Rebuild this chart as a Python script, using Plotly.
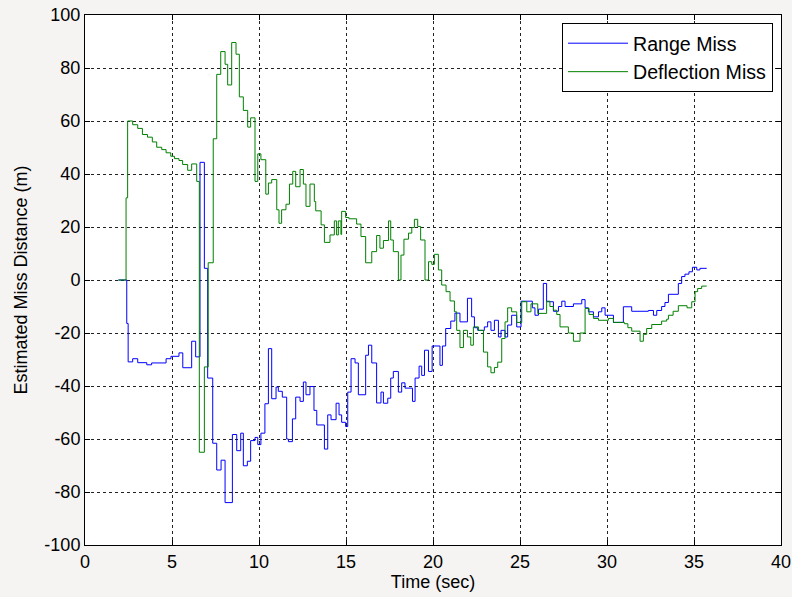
import plotly.graph_objects as go

# ---- data (step series: value holds until next time) ----
range_time = [1.92, 2.40, 2.48, 2.74, 3.03, 3.55, 3.83, 4.66, 4.94, 5.40, 5.62, 6.13, 6.36,
              6.61, 6.86, 7.05, 7.34, 7.57, 7.82, 8.05, 8.47, 8.72, 8.95, 9.10, 9.33, 9.52,
              9.77, 9.93, 10.11, 10.34, 10.54, 10.73, 10.98, 11.11, 11.34, 11.59, 11.69,
              11.92, 12.11, 12.36, 12.55, 12.70, 12.93, 13.16, 13.32, 13.76, 13.95, 14.14,
              14.43, 14.60, 14.75, 14.98, 15.10, 15.29, 15.52, 15.71, 16.13, 16.29, 16.48,
              16.76, 17.01, 17.15, 17.40, 17.57, 17.72, 18.01, 18.20, 18.39, 18.82, 18.97,
              19.20, 19.35, 19.51, 19.74, 19.95, 20.40, 20.54, 20.73, 21.02, 21.26, 21.55,
              21.98, 22.22, 22.38, 22.57, 22.95, 23.14, 23.33, 23.53, 23.76, 23.91, 24.14,
              24.29, 24.52, 24.81, 25.06, 25.71, 25.86, 26.06, 26.34, 26.53, 26.92, 27.21,
              27.40, 27.59, 28.07, 28.55, 28.74, 28.93, 29.22, 29.51, 29.70, 29.89, 30.37,
              30.94, 31.42, 32.38, 32.67, 32.86, 33.14, 33.33, 33.53, 34.10, 34.29, 34.48,
              34.71, 34.91, 35.16, 35.34, 35.73]
range_miss = [0, -16.4, -30.9, -29.7, -31.2, -32.0, -31.3, -29.7, -28.8, -27.5, -33.1, -23.1,
              -29.0, 44.4, 4.4, -37.0, -61.6, -71.7, -68.0, -84.0, -58.3, -64.4, -57.8, -70.1,
              -68.4, -60.6, -59.4, -62.1, -57.8, -46.7, -25.9, -44.8, -40.4, -42.0, -44.2,
              -60.0, -61.0, -52.4, -44.2, -45.8, -38.5, -43.3, -40.2, -49.2, -54.7, -63.8,
              -50.9, -52.7, -46.5, -50.9, -53.7, -55.3, -42.3, -29.7, -31.3, -43.3, -28.4,
              -24.6, -31.3, -46.4, -42.3, -46.5, -44.6, -37.0, -34.5, -42.3, -38.8, -40.8,
              -45.8, -37.0, -32.5, -36.0, -26.5, -34.5, -24.9, -32.2, -24.9, -18.3, -15.5,
              -12.5, -15.8, -6.9, -13.9, -18.0, -19.0, -17.7, -15.8, -19.0, -15.2, -21.5,
              -19.0, -21.5, -17.0, -13.3, -17.7, -8.0, -10.5, -13.3, -11.0, -1.3, -8.2,
              -11.8, -10.0, -8.0, -10.0, -9.0, -7.4, -10.5, -12.0, -13.9, -12.0, -10.5,
              -13.3, -16.0, -10.1, -11.8, -11.5, -13.3, -11.5, -10.0, -8.5, -5.4, -1.3, 1.3,
              2.2, 3.1, 4.8, 3.8, 4.4, 4.4]

defl_time = [1.92, 2.36, 2.45, 2.74, 3.03, 3.30, 3.59, 3.87, 4.12, 4.41, 4.66, 4.93, 5.14,
             5.40, 5.61, 5.90, 6.13, 6.42, 6.57, 6.86, 7.08, 7.37, 7.57, 7.80, 8.05, 8.20,
             8.43, 8.68, 8.87, 9.10, 9.35, 9.52, 9.77, 9.93, 10.11, 10.39, 10.54, 10.73,
             11.02, 11.15, 11.30, 11.55, 11.75, 11.94, 12.11, 12.36, 12.55, 12.70, 12.93,
             13.18, 13.26, 13.57, 13.76, 14.08, 14.33, 14.46, 14.56, 14.71, 14.75, 14.98,
             15.17, 15.61, 15.86, 16.13, 16.48, 16.76, 16.95, 17.15, 17.44, 17.57, 17.72,
             18.01, 18.16, 18.33, 18.59, 18.78, 18.93, 19.12, 19.29, 19.54, 19.74, 19.93,
             20.08, 20.31, 20.50, 20.75, 20.98, 21.23, 21.36, 21.55, 21.75, 21.98, 22.17,
             22.32, 22.61, 22.90, 23.14, 23.33, 23.53, 23.72, 23.95, 24.14, 24.29, 24.52,
             24.81, 25.10, 25.39, 25.63, 26.02, 26.53, 26.72, 26.92, 27.11, 27.30, 27.78,
             28.07, 28.45, 28.74, 28.97, 29.22, 29.51, 30.08, 30.37, 31.00, 31.20, 31.42,
             31.90, 32.09, 32.28, 32.57, 33.14, 33.43, 33.53, 33.80, 34.10, 34.60, 34.87,
             35.06, 35.21, 35.44, 35.73]
defl_miss = [0, 31.0, 60.0, 58.6, 57.2, 54.9, 53.9, 52.1, 50.1, 49.2, 48.0, 46.7, 45.8, 45.1,
             43.6, 41.4, 43.8, 37.2, -65.0, -32.8, 6.5, 53.3, 77.6, 86.2, 81.4, 73.6, 89.6,
             85.2, 69.1, 64.0, 57.7, 61.2, 37.2, 47.6, 45.4, 32.4, 36.6, 37.9, 26.5, 21.4,
             26.5, 28.6, 36.2, 41.0, 35.2, 41.7, 36.2, 27.8, 36.2, 29.6, 26.1, 20.8, 14.2,
             17.0, 22.3, 17.0, 22.3, 17.2, 25.9, 23.6, 23.1, 21.1, 16.4, 6.5, 10.7, 16.8,
             12.0, 14.9, 22.3, 15.1, 10.7, 0.0, 9.4, 15.4, 17.7, 19.8, 22.9, 20.2, 15.1, 0.0,
             6.9, 5.9, 9.7, 3.8, -1.9, -4.4, -7.9, -12.0, -19.0, -25.5, -19.0, -21.5, -24.6,
             -17.7, -19.0, -27.2, -32.8, -35.0, -33.0, -31.0, -22.1, -15.8, -10.5, -12.0,
             -16.0, -8.2, -12.0, -9.0, -12.6, -8.0, -10.0, -11.4, -13.0, -17.7, -20.0, -23.1,
             -20.0, -10.7, -13.0, -14.5, -15.2, -14.5, -16.0, -16.5, -18.0, -19.3, -23.1,
             -20.5, -18.3, -16.8, -15.5, -14.8, -13.3, -11.8, -9.7, -10.5, -8.2, -4.4, -3.2,
             -2.3, -2.3]

x_ticks = [0, 5, 10, 15, 20, 25, 30, 35, 40]
y_ticks = [-100, -80, -60, -40, -20, 0, 20, 40, 60, 80, 100]

FONT = "Liberation Sans, Arial, sans-serif"

fig = go.Figure()
fig.add_trace(go.Scatter(x=range_time, y=range_miss, mode="lines", name="Range Miss",
                         line=dict(color="#0000ff", width=1, shape="hv")))
fig.add_trace(go.Scatter(x=defl_time, y=defl_miss, mode="lines", name="Deflection Miss",
                         line=dict(color="#008000", width=1, shape="hv")))

axis_common = dict(showline=True, linecolor="black", linewidth=1, mirror="ticks",
                   ticks="inside", ticklen=5, tickcolor="black", automargin=False,
                   showgrid=True, gridcolor="#222222", gridwidth=1, griddash="dot",
                   zeroline=False, tickfont=dict(family=FONT, size=18, color="black"))

fig.update_xaxes(range=[0, 40], tickvals=x_ticks, ticktext=[str(v) for v in x_ticks],
                 title=dict(text="Time (sec)", font=dict(family=FONT, size=18, color="black"),
                            standoff=2),
                 **axis_common)
fig.update_yaxes(range=[-100, 100], tickvals=y_ticks, ticktext=[str(v) for v in y_ticks],
                 title=dict(text="Estimated Miss Distance (m)",
                            font=dict(family=FONT, size=18, color="black"), standoff=12),
                 **axis_common)

fig.update_layout(
    width=792, height=597,
    margin=dict(l=85, r=11, t=15, b=52),
    paper_bgcolor="#f6f4f2",
    plot_bgcolor="#ffffff",
    showlegend=True,
    hovermode=False,
    legend=dict(x=0.9885, y=0.985, xanchor="right", yanchor="top",
                bgcolor="white", bordercolor="black", borderwidth=1,
                font=dict(family=FONT, size=19.6, color="black"),
                itemwidth=60, tracegroupgap=0),
)

# remove the page's default body margin so the figure sits at the window's corner
fig.write_html("out.html",
               config={"displayModeBar": False, "staticPlot": True},
               post_script="document.body.style.margin='0px';"
                           "document.body.style.overflow='hidden';")
